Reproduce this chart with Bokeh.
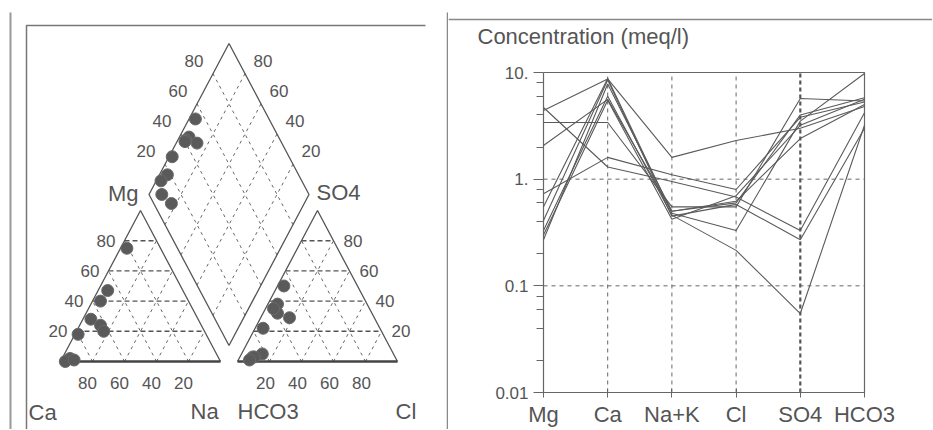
import math
from bokeh.plotting import figure
from bokeh.layouts import row
from bokeh.models import Range1d, FixedTicker, CustomJSTickFormatter
from bokeh.core.properties import value
from bokeh.embed import file_html
from bokeh.resources import INLINE

# ---------------- Schoeller data (meq/l), one entry per sample ----------------
ions = ["Mg", "Ca", "Na+K", "Cl", "SO4", "HCO3"]
mg   = [4.4, 4.7, 3.4, 2.07, 0.73, 0.55, 0.41, 0.33, 0.30, 0.27]
ca   = [8.7, 1.3, 3.4, 5.6, 1.6, 8.8, 8.5, 6.0, 5.5, 7.8]
nak  = [1.6, 0.95, 0.55, 0.50, 1.1, 0.48, 0.45, 0.46, 0.42, 0.50]
cl   = [2.3, 0.68, 0.55, 0.60, 0.80, 0.33, 0.58, 0.215, 0.70, 0.62]
so4  = [3.0, 0.33, 5.7, 4.0, 3.8, 3.5, 0.27, 0.055, 3.2, 2.4]
hco3 = [4.8, 4.2, 5.4, 5.8, 5.3, 9.8, 3.0, 3.2, 5.6, 5.0]
y_ticks = [0.01, 0.1, 1, 10]
y_minor = [0.02, 0.04, 0.06, 0.08, 0.2, 0.4, 0.6, 0.8, 2, 4, 6, 8]
y_grid = [0.1, 1]

# ---------------- Piper data (% of meq) ----------------
mg_pct  = [75, 47, 28, 24, 18, 20, 2, 0, 1, 40]
na_pct  = [4, 6, 5, 13, 2, 17, 5, 3, 8, 5]
so4_pct = [50, 38, 32, 29, 22, 3, 5, 3, 1, 35]
cl_pct  = [4, 6, 9, 18, 5, 8, 13, 9, 7, 5]
tri_ticks = [20, 40, 60, 80]

FONT = value("Liberation Sans")
TXT = "#555555"
LINE = "#555555"
TOTAL_H = 429
SPLIT = 448
TOTAL_W = 932

# ---------------- Left panel: Piper diagram ----------------
SX = 1.6                 # px per unit, horizontal
SY = 151 / 86.6025       # px per unit, vertical
X0, Y0 = 60, 361         # page position of the Ca corner
H = 50 * math.sqrt(3)
G = 17 / SX              # gap between triangles
OFF = 100 + G
B = (100 + G / 2, (G / 2) * math.sqrt(3))
Lv = (B[0] - 50, B[1] + H)
Rv = (B[0] + 50, B[1] + H)
Tv = (B[0], B[1] + 2 * H)

def ux(px):
    return (px - X0) / SX

def uy(py):
    return (Y0 - py) / SY

def shift(pt, dx, dy):
    return (pt[0] + dx / SX, pt[1] - dy / SY)

pL = figure(frame_width=SPLIT, frame_height=TOTAL_H, x_range=Range1d(ux(0), ux(SPLIT)),
            y_range=Range1d(uy(TOTAL_H), uy(0)), x_axis_location=None, y_axis_location=None,
            output_backend="svg", toolbar_location=None, min_border=0,
            outline_line_color=None)
pL.xgrid.visible = False
pL.ygrid.visible = False

# panel frames
pL.line([ux(10), ux(10)], [uy(12), uy(TOTAL_H)], line_color="#999999", line_width=2)
pL.line([ux(26), ux(26), ux(425)], [uy(TOTAL_H), uy(25), uy(25)], line_color="#777777", line_width=1.5)
pL.line([ux(447), ux(447)], [uy(12), uy(TOTAL_H)], line_color="#888888", line_width=1.5)

GRID = dict(line_color="#666666", line_width=1, line_dash="3 4")
HGRID = dict(line_color="#555555", line_width=1.4, line_dash="5 3")

for off in (0, OFF):
    for k in tri_ticks:
        f = k / 100
        pL.line([off + 50 * f, off + 100 - 50 * f], [f * H, f * H], **HGRID)
        pL.line([off + 100 * f, off + 50 * (1 + f)], [0, (1 - f) * H], **GRID)
        pL.line([off + 100 * (1 - f), off + 50 * (1 - f)], [0, (1 - f) * H], **GRID)
    pL.line([off, off + 50, off + 100], [0, H, 0], line_color=LINE, line_width=1.3)
    pL.line([off, off + 100], [0, 0], line_color="#444444", line_width=2.6)

for k in tri_ticks:
    f = k / 100
    s = (B[0] + f * 50, B[1] + f * H)
    pL.line([s[0], s[0] - 50], [s[1], s[1] + H], **GRID)
    s = (B[0] - f * 50, B[1] + f * H)
    pL.line([s[0], s[0] + 50], [s[1], s[1] + H], **GRID)
pL.line([B[0], Lv[0], Tv[0], Rv[0], B[0]], [B[1], Lv[1], Tv[1], Rv[1], B[1]],
        line_color=LINE, line_width=1.3)

lx, ly, lt, la = [], [], [], []
for k in tri_ticks:
    f = k / 100
    p = shift((50 * f, f * H), -9, 0); lx.append(p[0]); ly.append(p[1]); lt.append(str(k)); la.append("right")
    p = shift((100 * (1 - f), 0), -5, 21); lx.append(p[0]); ly.append(p[1]); lt.append(str(k)); la.append("center")
    p = shift((OFF + 100 - 50 * f, f * H), 10, 0); lx.append(p[0]); ly.append(p[1]); lt.append(str(k)); la.append("left")
    p = shift((OFF + 100 * f, 0), -4, 21); lx.append(p[0]); ly.append(p[1]); lt.append(str(k)); la.append("center")
    e = (Lv[0] + 50 * f, Lv[1] + H * f)
    p = shift(e, -19, -13); lx.append(p[0]); ly.append(p[1]); lt.append(str(k)); la.append("center")
    e = (Rv[0] - 50 * f, Rv[1] + H * f)
    p = shift(e, 18, -13); lx.append(p[0]); ly.append(p[1]); lt.append(str(k)); la.append("center")
pL.text(x=lx, y=ly, text=lt, text_align=la, text_baseline="middle",
        text_font=FONT, text_font_size=value("17px"), text_color=TXT)

cx = [ux(28), ux(190), ux(237), ux(395), ux(138), ux(316)]
cy = [uy(412), uy(411), uy(411), uy(411), uy(193), uy(192)]
ct = ["Ca", "Na", "HCO3", "Cl", "Mg", "SO4"]
ca_al = ["left", "left", "left", "left", "right", "left"]
pL.text(x=cx, y=cy, text=ct, text_align=ca_al, text_baseline="middle",
        text_font=FONT, text_font_size=value("22px"), text_color=TXT)

cat_x = [n + m / 2 for n, m in zip(na_pct, mg_pct)]
cat_y = [m / 100 * H for m in mg_pct]
an_x = [OFF + c + s / 2 for c, s in zip(cl_pct, so4_pct)]
an_y = [s / 100 * H for s in so4_pct]
dia_x, dia_y = [], []
for n, s, c in zip(na_pct, so4_pct, cl_pct):
    u = (s + c) / 100
    v = 1 - n / 100
    dia_x.append(B[0] + 50 * u - 50 * v)
    dia_y.append(B[1] + H * u + H * v)
for xs_, ys_ in ((cat_x, cat_y), (an_x, an_y), (dia_x, dia_y)):
    pL.scatter(xs_, ys_, size=12, fill_color="#5a5a5a", line_color="#6a6a6a", line_width=1)

# ---------------- Right panel: Schoeller diagram ----------------
DXP = 321 / 5.0           # px per category step
DEC = 320 / 3.0           # px per decade
def rx(px):
    return (px - 543) / DXP
def ry(py):
    return 10 ** (1 + (72 - py) / DEC)

pR = figure(frame_width=TOTAL_W - SPLIT, frame_height=TOTAL_H,
            x_range=Range1d(rx(SPLIT), rx(TOTAL_W)),
            y_range=Range1d(ry(TOTAL_H), ry(0)), y_axis_type="log", output_backend="svg",
            toolbar_location=None, min_border=0, outline_line_color=None)
pR.xgrid.visible = False
pR.ygrid.visible = False

nx = len(ions) - 1
pR.line([rx(SPLIT), rx(TOTAL_W)], [ry(19), ry(19)], line_color="#888888", line_width=1.5)
pR.line([0, 0, nx, nx, 0], [y_ticks[-1], y_ticks[0], y_ticks[0], y_ticks[-1], y_ticks[-1]],
        line_color="#666666", line_width=1.2)
pR.segment(x0=[1, 2, 3], y0=[y_ticks[0]] * 3, x1=[1, 2, 3], y1=[y_ticks[-1]] * 3,
           line_color="#666666", line_width=1, line_dash="4 4")
pR.segment(x0=[4], y0=[y_ticks[0]], x1=[4], y1=[y_ticks[-1]],
           line_color="#555555", line_width=2.2, line_dash="4 3")
pR.segment(x0=[0] * len(y_grid), y0=y_grid, x1=[nx] * len(y_grid), y1=y_grid,
           line_color="#666666", line_width=1, line_dash="4 4")

xs = [list(range(len(ions))) for _ in mg]
ys = [[mg[i], ca[i], nak[i], cl[i], so4[i], hco3[i]] for i in range(len(mg))]
pR.multi_line(xs, ys, line_color="#5a5a5a", line_width=1.1)

pR.text(x=[rx(477)], y=[ry(36)], text=["Concentration (meq/l)"], text_baseline="middle",
        text_font=FONT, text_font_size=value("22px"), text_color=TXT)

pR.xaxis.fixed_location = y_ticks[0]
pR.yaxis.fixed_location = 0
pR.xaxis.ticker = FixedTicker(ticks=list(range(len(ions))))
pR.xaxis.formatter = CustomJSTickFormatter(args=dict(labels=ions),
                                           code="return labels[Math.round(tick)]")
pR.yaxis.ticker = FixedTicker(ticks=y_ticks, minor_ticks=y_minor)
pR.yaxis.formatter = CustomJSTickFormatter(
    code="if (tick >= 1) { return Math.round(tick) + '.'; } return String(tick);")
for ax in (pR.xaxis, pR.yaxis):
    ax.axis_line_color = None
    ax.major_tick_line_color = "#666666"
    ax.minor_tick_line_color = "#666666"
    ax.major_label_text_color = TXT
    ax.major_label_text_font = "Liberation Sans"
pR.xaxis.major_label_text_font_size = "22px"
pR.xaxis.major_tick_in = 4
pR.xaxis.major_tick_out = 5
pR.xaxis.major_label_standoff = 4
pR.xaxis.minor_tick_line_color = None
pR.yaxis.major_label_text_font_size = "17px"
pR.yaxis.major_tick_in = 0
pR.yaxis.major_tick_out = 10
pR.yaxis.minor_tick_in = 0
pR.yaxis.minor_tick_out = 7
pR.yaxis.major_label_standoff = 5

layout = row(pL, pR, spacing=0)
open("out.html", "w").write(file_html(layout, INLINE))
